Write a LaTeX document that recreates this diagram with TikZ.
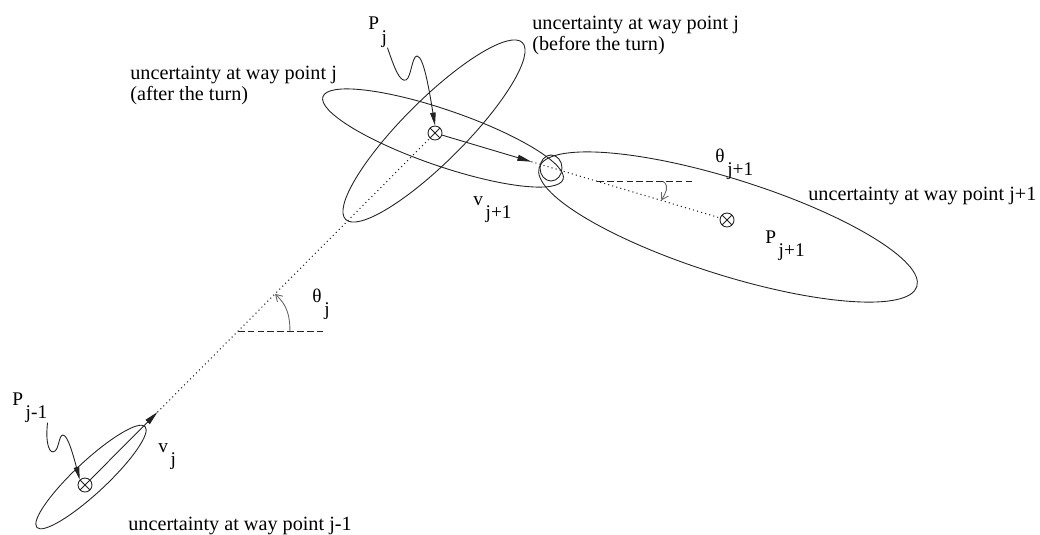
\documentclass[tikz,border=0pt]{standalone}
\usepackage{fontspec}
\setmainfont{Liberation Serif}
\newfontfamily\figfont{Liberation Serif}
\usepackage{tikz}
\usetikzlibrary{arrows.meta,calc}
\definecolor{figink}{HTML}{222222}
\definecolor{figgray}{HTML}{666666}
\newcommand{\lowsub}[2]{#1\hspace{1.5pt}\raisebox{-7.5pt}{#2}}

\begin{document}
\begin{tikzpicture}[x=0.02cm, y=-0.02cm,
  unc/.style={draw=figink, line width=0.5pt},
  wpt/.style={circle, draw=figink, line width=0.5pt, minimum size=2.8mm, inner sep=0pt,
              path picture={\draw[figink, line width=0.5pt]
                (path picture bounding box.north west) -- (path picture bounding box.south east)
                (path picture bounding box.south west) -- (path picture bounding box.north east);}},
  lab/.style={font=\figfont\fontsize{11.5}{11.5}\selectfont, inner sep=0pt, anchor=base west, align=left},
  sym/.style={font=\figfont\fontsize{11}{11}\selectfont, inner sep=0pt, anchor=base west},
  vel/.style={draw=figink, line width=0.5pt, -{Triangle[length=2.8mm, width=1.2mm]}},
  track/.style={draw=figink, line width=0.6pt, dash pattern=on 0.6pt off 1.8pt},
  hor/.style={draw=figink, line width=0.5pt, dash pattern=on 3.8pt off 1.8pt},
  turn/.style={draw=figgray, line width=0.5pt, -{Straight Barb[length=1.3mm, width=1.6mm]}},
  squig/.style={draw=figink, line width=0.5pt, -{Triangle[length=2.6mm, width=1.1mm]}}
]
\useasboundingbox (0,0) rectangle (1040,534);

% way points
\node[wpt] (pjm1) at (85,485) {};
\node[wpt] (pj) at (435,133) {};
\node[wpt] (pjp1) at (727,220) {};

% uncertainty ellipses
\draw[unc, rotate around={43:(91,477)}] (91,477) ellipse [x radius=74, y radius=16];
\draw[unc, rotate around={45:(434,131)}] (434,131) ellipse [x radius=125, y radius=31];
\draw[unc, rotate around={-19:(443,138)}] (443,138) ellipse [x radius=127, y radius=28];
\draw[unc, rotate around={-17.5:(728,227)}] (728,227) ellipse [x radius=198, y radius=48];
\draw[unc] (551,168) ellipse [x radius=11, y radius=13];

% velocities and track
\coordinate (vjtip) at ($(pjm1)!0.207!(pj)$);
\coordinate (vjptip) at ($(pj)!0.33!(pjp1)$);
\draw[vel] (pjm1) -- (vjtip);
\draw[track] (vjtip) -- (pj);
\draw[vel] (pj) -- (vjptip);
\draw[track] (vjptip) -- (pjp1);

% heading angles
\coordinate (hj) at ($(pjm1)!0.437!(pj)$);
\draw[hor] (hj) -- ++(87,0);
\draw[turn] ($(hj)+(52,0)$) .. controls +(0,-22) and +(8,8) .. ($(pjm1)!0.543!(pj)$);
\coordinate (hjp1) at ($(pj)!0.555!(pjp1)$);
\draw[hor] (hjp1) -- ++(96,0);
\draw[turn] ($(hjp1)+(66,0)$) .. controls +(7,5) and +(4,-7) .. ($(pj)!0.775!(pjp1)$);

% symbols
\node[sym] (lPjm1) at (12,405) {\lowsub{P}{j-1}};
\node[sym] (lPj) at (368,30) {\lowsub{P}{j}};
\node[sym] (lPjp1) at (765,243) {\lowsub{P}{j+1}};
\node[sym] (lvj) at (158,452) {\lowsub{v}{j}};
\node[sym] (lvjp1) at (473,205) {\lowsub{v}{j+1}};
\node[sym] (lthj) at (312,302) {\lowsub{θ}{j}};
\node[sym] (lthjp1) at (715,162) {\lowsub{θ}{j+1}};

% pointers to the way points
\draw[squig] (lPj.south east) .. controls (395,70) and (400,82) .. (406,80)
  .. controls (411,78) and (412,56) .. (417,56)
  .. controls (424,56) and (430,95) .. (pj.north);
\draw[squig] (lPjm1.south east) .. controls (45,445) and (50,455) .. (55,451)
  .. controls (59,448) and (59,435) .. (63,435)
  .. controls (68,435) and (74,458) .. (pjm1.north west);

% captions (base = last line)
\node[lab] (tbefore) at (532,50) {uncertainty at way point j\\(before the turn)};
\node[lab] (tafter) at (130,100) {uncertainty at way point j\\(after the turn)};
\node[lab] (tnext) at (808,200) {uncertainty at way point j+1};
\node[lab] (tprev) at (128,530) {uncertainty at way point j-1};
\end{tikzpicture}
\end{document}
